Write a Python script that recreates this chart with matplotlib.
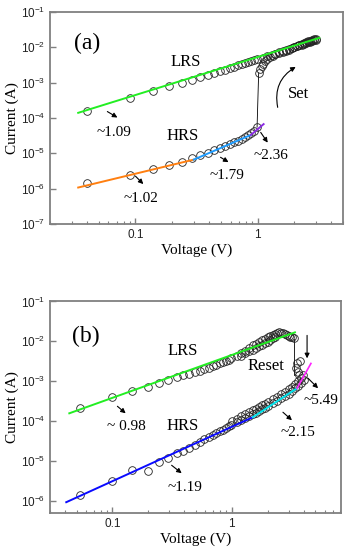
import numpy as np
import matplotlib
matplotlib.use('Agg')
import matplotlib.pyplot as plt
from matplotlib.ticker import NullLocator, FixedLocator

plt.rcParams['font.family'] = 'Liberation Serif'
plt.rcParams['mathtext.fontset'] = 'custom'
plt.rcParams['mathtext.rm'] = 'Liberation Sans'
plt.rcParams['mathtext.it'] = 'Liberation Sans:italic'
plt.rcParams['mathtext.bf'] = 'Liberation Sans:bold'

# ---------------- panel (a) data ----------------
# HRS sweep (set process, low voltage side)
hrs_a_v = [0.04, 0.09, 0.14, 0.19, 0.24, 0.29, 0.34, 0.39, 0.44, 0.49,
           0.54, 0.59, 0.64, 0.69, 0.74, 0.79, 0.84, 0.89, 0.94, 0.99]
hrs_a_i = [1.4e-6, 2.5e-6, 3.5e-6, 4.7e-6, 5.8e-6, 7.3e-6, 9.0e-6, 1.05e-5, 1.25e-5, 1.4e-5,
           1.6e-5, 1.8e-5, 2.05e-5, 2.3e-5, 2.55e-5, 2.85e-5, 3.2e-5, 3.7e-5, 4.4e-5, 5.5e-5]
# set jump + forward sweep in LRS
set_a_v = [1.02, 1.05, 1.08, 1.11, 1.15, 1.2, 1.26, 1.33, 1.4, 1.5, 1.6, 1.7, 1.8, 1.9,
           2.0, 2.1, 2.2, 2.3, 2.4, 2.5, 2.6, 2.7, 2.8, 2.9, 3.0]
set_a_i = [1.9e-3, 2.4e-3, 2.9e-3, 3.4e-3, 4.0e-3, 4.6e-3, 5.2e-3, 5.8e-3, 6.3e-3, 6.9e-3,
           7.5e-3, 8.1e-3, 8.7e-3, 9.4e-3, 1.01e-2, 1.08e-2, 1.16e-2, 1.24e-2, 1.32e-2, 1.4e-2,
           1.48e-2, 1.55e-2, 1.62e-2, 1.68e-2, 1.72e-2]
# LRS return sweep
lrs_a_v = [0.04, 0.09, 0.14, 0.19, 0.24, 0.29, 0.34, 0.39, 0.44, 0.49, 0.54, 0.59, 0.64,
           0.69, 0.74, 0.79, 0.84, 0.89, 0.94, 0.99, 1.1, 1.2, 1.3, 1.4, 1.5, 1.6, 1.7,
           1.8, 1.9, 2.0, 2.1, 2.2, 2.3, 2.4, 2.5, 2.6, 2.7, 2.8, 2.9, 3.0]
lrs_a_i = [1.6e-4, 3.7e-4, 5.8e-4, 7.8e-4, 1.0e-3, 1.2e-3, 1.45e-3, 1.65e-3, 1.9e-3, 2.1e-3,
           2.35e-3, 2.6e-3, 2.85e-3, 3.1e-3, 3.35e-3, 3.6e-3, 3.85e-3, 4.1e-3, 4.35e-3, 4.6e-3,
           5.1e-3, 5.6e-3, 6.1e-3, 6.6e-3, 7.2e-3, 7.8e-3, 8.4e-3, 9.0e-3, 9.6e-3, 1.02e-2,
           1.08e-2, 1.14e-2, 1.2e-2, 1.26e-2, 1.32e-2, 1.38e-2, 1.44e-2, 1.5e-2, 1.57e-2, 1.65e-2]
jump_a_v = [0.99, 1.02]
jump_a_i = [5.5e-5, 1.9e-3]
# fitted lines (end points)
fit_a_lrs = ([0.034, 3.2], [1.4e-4, 1.86e-2])
fit_a_hrs1 = ([0.034, 0.30], [1.07e-6, 6.6e-6])
fit_a_hrs2 = ([0.30, 0.88], [6.6e-6, 3.3e-5])
fit_a_hrs3 = ([0.88, 1.12], [3.3e-5, 6.7e-5])

# ---------------- panel (b) data ----------------
lrs_b_v = [0.053, 0.1, 0.147, 0.197, 0.244, 0.29, 0.345, 0.39, 0.44, 0.49, 0.54, 0.59,
           0.64, 0.69, 0.74, 0.79, 0.84, 0.89, 0.94, 0.99, 1.1, 1.2, 1.3, 1.4, 1.5, 1.6,
           1.7, 1.8, 1.9, 2.0, 2.1, 2.2, 2.3, 2.4, 2.5, 2.6, 2.7, 2.8, 2.9, 3.0, 3.1,
           3.2, 3.3]
lrs_b_i = [2.1e-4, 4.0e-4, 5.6e-4, 7.1e-4, 8.9e-4, 1.05e-3, 1.26e-3, 1.4e-3, 1.55e-3, 1.7e-3,
           1.85e-3, 2.0e-3, 2.2e-3, 2.4e-3, 2.6e-3, 2.8e-3, 3.0e-3, 3.25e-3, 3.5e-3, 3.75e-3,
           4.3e-3, 5.0e-3, 5.8e-3, 6.8e-3, 7.9e-3, 8.8e-3, 9.7e-3, 1.06e-2, 1.15e-2, 1.25e-2,
           1.35e-2, 1.45e-2, 1.55e-2, 1.62e-2, 1.7e-2, 1.65e-2, 1.6e-2, 1.5e-2, 1.45e-2,
           1.4e-2, 1.3e-2, 1.25e-2, 1.2e-2]
lrs_b2_v = [1.2, 1.3, 1.4, 1.5, 1.6, 1.7, 1.8, 1.9, 2.0, 2.1, 2.2, 2.3]
lrs_b2_i = [4.4e-3, 5.0e-3, 5.6e-3, 6.2e-3, 6.8e-3, 7.5e-3, 8.2e-3, 9.0e-3, 9.9e-3,
            1.08e-2, 1.18e-2, 1.3e-2]
reset_b_v = [3.45, 3.52, 3.73, 3.59, 3.65]
reset_b_i = [2.1e-3, 2.8e-3, 3.3e-3, 1.66e-3, 1.4e-3]
jump_b_v = [3.3, 3.3]
jump_b_i = [1.15e-2, 1.4e-3]
hrs_b_v = [0.053, 0.1, 0.147, 0.197, 0.244, 0.29, 0.345, 0.39, 0.44, 0.49, 0.54, 0.59,
           0.64, 0.69, 0.74, 0.79, 0.84, 0.89, 0.94, 0.99, 1.1, 1.2, 1.3, 1.4, 1.5, 1.6,
           1.7, 1.8, 1.9, 2.0, 2.2, 2.4, 2.6, 2.8, 3.0, 3.2, 3.4, 3.6, 3.8, 4.0]
hrs_b_i = [1.4e-6, 3.2e-6, 6.0e-6, 5.6e-6, 9.4e-6, 1.2e-5, 1.6e-5, 1.8e-5, 2.1e-5, 2.5e-5,
           3.0e-5, 3.6e-5, 4.1e-5, 4.6e-5, 5.1e-5, 5.7e-5, 6.2e-5, 6.8e-5, 7.4e-5, 8.0e-5,
           9.3e-5, 1.06e-4, 1.2e-4, 1.34e-4, 1.5e-4, 1.65e-4, 1.82e-4, 2.0e-4, 2.2e-4, 2.4e-4,
           2.8e-4, 3.3e-4, 3.8e-4, 4.3e-4, 4.9e-4, 5.7e-4, 6.6e-4, 7.8e-4, 9.3e-4, 1.1e-3]
hrs_b2_v = [1.0, 1.1, 1.2, 1.3, 1.4, 1.5, 1.6, 1.7, 1.8, 1.9, 2.0, 2.2, 2.4, 2.6, 2.8,
            3.0, 3.2, 3.4, 3.6, 3.8, 3.95]
hrs_b2_i = [1.0e-4, 1.17e-4, 1.33e-4, 1.5e-4, 1.68e-4, 1.88e-4, 2.08e-4, 2.3e-4, 2.52e-4,
            2.76e-4, 3.0e-4, 3.55e-4, 4.15e-4, 4.8e-4, 5.5e-4, 6.3e-4, 7.3e-4, 8.5e-4,
            1.0e-3, 1.2e-3, 1.4e-3]
fit_b_lrs = ([0.0435, 3.38], [1.58e-4, 1.68e-2])
fit_b_hrs1 = ([0.041, 1.5], [9.4e-7, 1.26e-4])
fit_b_hrs2 = ([1.5, 3.52], [1.26e-4, 6.7e-4])
fit_b_hrs3 = ([3.52, 4.6], [6.7e-4, 2.8e-3])

ytick_vals = [1e-7, 1e-6, 1e-5, 1e-4, 1e-3, 1e-2, 1e-1]
ytick_labels = ['$10^{-7}$', '$10^{-6}$', '$10^{-5}$', '$10^{-4}$',
                '$10^{-3}$', '$10^{-2}$', '$10^{-1}$']
xtick_vals = [0.1, 1]
xtick_labels = ['0.1', '1']

GRAY = '#808080'
mk = dict(ls='none', marker='o', mfc='none', mec='#222222', ms=5.5, mew=0.6)


def style(ax, xlim, ylim):
    ax.set_xscale('log')
    ax.set_yscale('log')
    ax.set_xlim(*xlim)
    ax.set_ylim(*ylim)
    for s in ax.spines.values():
        s.set_color(GRAY)
        s.set_linewidth(1.3)
    ax.yaxis.set_major_locator(FixedLocator(ytick_vals))
    ax.set_yticklabels(ytick_labels)
    ax.yaxis.set_minor_locator(NullLocator())
    ax.set_xticks(xtick_vals)
    ax.set_xticklabels(xtick_labels, fontfamily='Liberation Sans')
    ax.tick_params(which='both', direction='in', color=GRAY, labelsize=8.5,
                   labelcolor='#222222')
    ax.tick_params(which='major', length=4, width=1)
    ax.tick_params(which='minor', length=2, width=0.8)
    ax.xaxis.set_minor_formatter(plt.NullFormatter())
    ax.set_xlabel('Voltage (V)', fontsize=11, labelpad=2)
    ax.set_ylabel('Current (A)', fontsize=11, labelpad=1)


def arrow(ax, p0, p1, style='-|>', rad=0.0):
    ax.annotate('', xy=p1, xytext=p0,
                arrowprops=dict(arrowstyle=style, color='k', lw=0.8,
                                mutation_scale=7, shrinkA=0, shrinkB=0,
                                connectionstyle='arc3,rad=%s' % rad))


fig = plt.figure(figsize=(3.5, 5.5), dpi=100)

# ---------------- (a) ----------------
ax1 = fig.add_axes([0.143, 0.593, 0.837, 0.385])
ax1.plot(jump_a_v, jump_a_i, color='k', lw=0.6)
ax1.plot(hrs_a_v, hrs_a_i, **mk)
ax1.plot(set_a_v, set_a_i, **mk)
ax1.plot(lrs_a_v, lrs_a_i, **mk)
ax1.plot(*fit_a_lrs, color='#22ee22', lw=1.4)
ax1.plot(*fit_a_hrs1, color='#ff7f10', lw=1.4)
ax1.plot(*fit_a_hrs2, color='#1e9cff', lw=1.4)
ax1.plot(*fit_a_hrs3, color='#8a2be2', lw=1.4)
style(ax1, (0.02, 5), (1e-7, 1e-1))

ax1.text(0.04, 1.26e-2, '(a)', fontsize=17, ha='center', va='center')
ax1.text(0.257, 3.9e-3, 'LRS', fontsize=12, ha='center', va='center')
ax1.text(0.243, 3.0e-5, 'HRS', fontsize=12, ha='center', va='center')
ax1.text(2.17, 4.9e-4, 'Set', fontsize=12, ha='center', va='center')
ax1.text(0.067, 3.9e-5, '~1.09', fontsize=11, ha='center', va='center')
ax1.text(0.557, 2.4e-6, '~1.79', fontsize=11, ha='center', va='center')
ax1.text(1.28, 8.7e-6, '~2.36', fontsize=11, ha='center', va='center')
ax1.text(0.112, 5.4e-7, '~1.02', fontsize=11, ha='center', va='center')
arrow(ax1, (0.0589, 1.52e-4), (0.0712, 1.03e-4))
arrow(ax1, (0.497, 7.7e-6), (0.578, 5.6e-6))
arrow(ax1, (1.06, 3.9e-5), (1.21, 2.0e-5))
arrow(ax1, (0.1, 2.25e-6), (0.116, 1.34e-6))
arrow(ax1, (1.46, 2.0e-4), (2.05, 2.8e-3), rad=-0.35)

# ---------------- (b) ----------------
ax2 = fig.add_axes([0.143, 0.067, 0.831, 0.385])
ax2.plot(jump_b_v, jump_b_i, color='k', lw=0.6)
ax2.plot(lrs_b_v, lrs_b_i, **mk)
ax2.plot(lrs_b2_v, lrs_b2_i, **mk)
ax2.plot(reset_b_v, reset_b_i, **mk)
ax2.plot(hrs_b_v, hrs_b_i, **mk)
ax2.plot(hrs_b2_v, hrs_b2_i, **mk)
ax2.plot(*fit_b_lrs, color='#22ee22', lw=1.4)
ax2.plot(*fit_b_hrs1, color='#0a0aff', lw=1.4)
ax2.plot(*fit_b_hrs2, color='#00e5ee', lw=1.4)
ax2.plot(*fit_b_hrs3, color='#ff22ff', lw=1.2)
style(ax2, (0.03, 8.2), (5e-7, 1e-1))

ax2.text(0.0593, 1.33e-2, '(b)', fontsize=17, ha='center', va='center')
ax2.text(0.388, 5.6e-3, 'LRS', fontsize=12, ha='center', va='center')
ax2.text(1.93, 2.37e-3, 'Reset', fontsize=12, ha='center', va='center')
ax2.text(0.388, 7.5e-5, 'HRS', fontsize=12, ha='center', va='center')
ax2.text(5.6, 3.35e-4, '~5.49', fontsize=11, ha='center', va='center')
ax2.text(3.59, 5.3e-5, '~2.15', fontsize=11, ha='center', va='center')
ax2.text(0.131, 7.5e-5, '~ 0.98', fontsize=11, ha='center', va='center')
ax2.text(0.403, 2.24e-6, '~1.19', fontsize=11, ha='center', va='center')
arrow(ax2, (4.27, 1.41e-2), (4.27, 3.76e-3))
arrow(ax2, (4.35, 1.19e-3), (5.28, 6.7e-4))
arrow(ax2, (2.68, 1.68e-4), (3.19, 1.06e-4))
arrow(ax2, (0.110, 2.37e-4), (0.129, 1.58e-4))
arrow(ax2, (0.313, 7.9e-6), (0.38, 5.0e-6))

fig.savefig('out.png', dpi=100)
